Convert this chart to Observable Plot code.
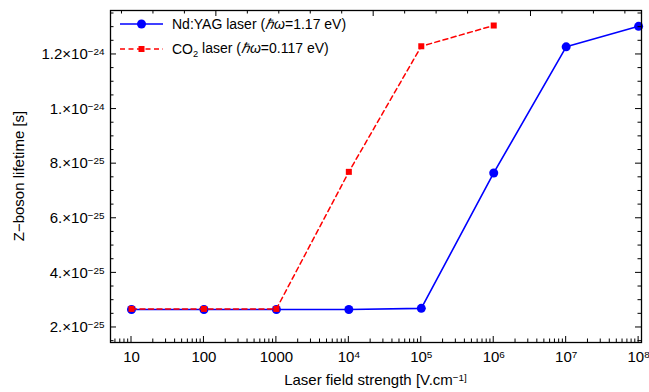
<!DOCTYPE html>
<html><head><meta charset="utf-8">
<script src="https://cdn.jsdelivr.net/npm/d3@7"></script>
<script src="https://cdn.jsdelivr.net/npm/@observablehq/plot@0.6"></script>
<style>
body{margin:0;background:#fff}
#chart{width:649px;height:392px}
</style>
</head><body><div id="chart"></div>
<script>
// ---- data ----
const fieldStrength = [10, 100, 1000, 1e4, 1e5, 1e6, 1e7, 1e8];
const ndYagLifetime = [2.66e-25, 2.66e-25, 2.66e-25, 2.66e-25, 2.70e-25, 7.66e-25, 1.228e-24, 1.303e-24];
const co2Field = [10, 100, 1000, 1e4, 1e5, 1e6];
const co2Lifetime = [2.68e-25, 2.68e-25, 2.68e-25, 7.70e-25, 1.230e-24, 1.306e-24];
const xTickValues = [10, 100, 1000, 1e4, 1e5, 1e6, 1e7, 1e8];
const xTickLabels = ["10", "100", "1000", "10^4", "10^5", "10^6", "10^7", "10^8"];
const yTickValues = [2e-25, 4e-25, 6e-25, 8e-25, 1e-24, 1.2e-24];
const yTickLabels = ["2.×10^-25", "4.×10^-25", "6.×10^-25", "8.×10^-25", "1.×10^-24", "1.2×10^-24"];
const xTitle = "Laser field strength [V.cm^-1]";
const yTitle = "Z\u2212boson lifetime [s]";

const BLUE = "#0000ff", RED = "#ff0000";
const FONT = '"Liberation Sans", Arial, Helvetica, sans-serif';
const FS = 15;
const LFS = 14;

const ndYag = fieldStrength.map((f, i) => ({field: f, lifetime: ndYagLifetime[i]}));
const co2 = co2Field.map((f, i) => ({field: f, lifetime: co2Lifetime[i]}));

const chart = Plot.plot({
  width: 649, height: 392,
  marginTop: 10, marginRight: 8, marginBottom: 50, marginLeft: 110,
  style: {fontFamily: FONT, fontSize: FS + "px", background: "white", color: "black", overflow: "visible"},
  x: {type: "log", domain: [5.13, 1.096e8]},
  y: {domain: [1.45e-25, 1.361e-24]},
  marks: [
    Plot.axisX(xTickValues, {tickSize: 0, tickPadding: 9, label: null,
      tickFormat: d => xTickLabels[xTickValues.indexOf(d)]}),
    Plot.axisY(yTickValues, {tickSize: 0, tickPadding: 6, label: null,
      tickFormat: d => yTickLabels[yTickValues.indexOf(d)]}),
    Plot.line(ndYag, {x: "field", y: "lifetime", stroke: BLUE, strokeWidth: 1.6}),
    Plot.dot(ndYag, {x: "field", y: "lifetime", r: 4.5, fill: BLUE, stroke: "none"}),
    Plot.line(co2, {x: "field", y: "lifetime", stroke: RED, strokeWidth: 1.5, strokeDasharray: "5,3.5"}),
    Plot.dot(co2, {x: "field", y: "lifetime", symbol: "square", r: 3.4, fill: RED, stroke: "none"}),
    Plot.frame({stroke: "black", strokeWidth: 1.3})
  ]
});
document.getElementById("chart").append(chart);

const svg = d3.select(chart);

// superscripts in labels
function supify(el, scale) {
  const s = el.textContent;
  const k = s.indexOf("^");
  if (k < 0) return;
  const base = s.slice(0, k), sup = s.slice(k + 1).replace("-", "\u2212");
  const t = d3.select(el);
  t.text(null);
  t.append("tspan").text(base);
  t.append("tspan").attr("dy", "-0.42em").attr("font-size", (scale || 0.66) + "em").text(sup);
}
svg.selectAll('g[aria-label="x-axis tick label"] text, g[aria-label="y-axis tick label"] text').each(function() {
  supify(this, 0.66);
});

// inward ticks using the plot scales
const sx = chart.scale("x"), sy = chart.scale("y");
const [xL, xR] = sx.range, [yB, yT] = sy.range;
const tg = svg.append("g").attr("stroke", "black").attr("stroke-width", 1);
const MAJ = 6, MIN = 3.5;
// bottom: decades + log minor
for (let e = 0; e <= 8; e++) {
  for (let m = 1; m <= 9; m++) {
    const v = m * Math.pow(10, e);
    if (v < sx.domain[0] || v > sx.domain[1]) continue;
    const px = sx.apply(v), len = m === 1 ? MAJ : MIN;
    tg.append("line").attr("x1", px).attr("x2", px).attr("y1", yB).attr("y2", yB - len);
  }
}
// top: natural-log ticks
for (let n = 0; n <= 20; n++) {
  const v = Math.exp(n);
  if (v < sx.domain[0] || v > sx.domain[1]) continue;
  const px = sx.apply(v), len = n % 5 === 0 ? MAJ : MIN;
  tg.append("line").attr("x1", px).attr("x2", px).attr("y1", yT).attr("y2", yT + len);
}
// left and right: y ticks
for (let k = 3; k <= 27; k++) {
  const v = k * 0.5e-25;
  if (v < sy.domain[0] || v > sy.domain[1]) continue;
  const py = sy.apply(v), len = k % 4 === 0 ? MAJ : MIN;
  tg.append("line").attr("x1", xL).attr("x2", xL + len).attr("y1", py).attr("y2", py);
  tg.append("line").attr("x1", xR).attr("x2", xR - len).attr("y1", py).attr("y2", py);
}

// axis titles
const xt = svg.append("text").attr("x", (xL + xR) / 2).attr("y", 385).attr("text-anchor", "middle")
  .attr("font-family", FONT).attr("font-size", FS).attr("fill", "black").text(xTitle);
supify(xt.node(), 0.66);
svg.append("text").attr("transform", `translate(19,${(yB + yT) / 2}) rotate(-90)`).attr("text-anchor", "middle")
  .attr("dy", "0.35em")
  .attr("font-family", FONT).attr("font-size", FS).attr("fill", "black").text(yTitle);

// legend
const lg = svg.append("g").attr("font-family", FONT).attr("font-size", LFS).attr("text-anchor", "start").attr("fill", "black");
lg.append("line").attr("x1", 120).attr("x2", 163).attr("y1", 24).attr("y2", 24).attr("stroke", BLUE).attr("stroke-width", 1.6);
lg.append("circle").attr("cx", 141.5).attr("cy", 24).attr("r", 4.5).attr("fill", BLUE);
const t1 = lg.append("text").attr("x", 172).attr("y", 29);
t1.append("tspan").text("Nd:YAG laser (");
t1.append("tspan").attr("font-style", "italic").text("\u210Fω");
t1.append("tspan").text("=1.17 eV)");
lg.append("line").attr("x1", 120).attr("x2", 163).attr("y1", 49).attr("y2", 49).attr("stroke", RED).attr("stroke-width", 1.5).attr("stroke-dasharray", "5,3.5");
lg.append("rect").attr("x", 138.5).attr("y", 46).attr("width", 6).attr("height", 6).attr("fill", RED);
const t2 = lg.append("text").attr("x", 172).attr("y", 54);
t2.append("tspan").text("CO");
t2.append("tspan").attr("font-size", "0.66em").attr("dy", "0.3em").text("2");
t2.append("tspan").attr("dy", "-0.3em").text(" laser (");
t2.append("tspan").attr("font-style", "italic").text("\u210Fω");
t2.append("tspan").text("=0.117 eV)");
</script>
</body></html>
